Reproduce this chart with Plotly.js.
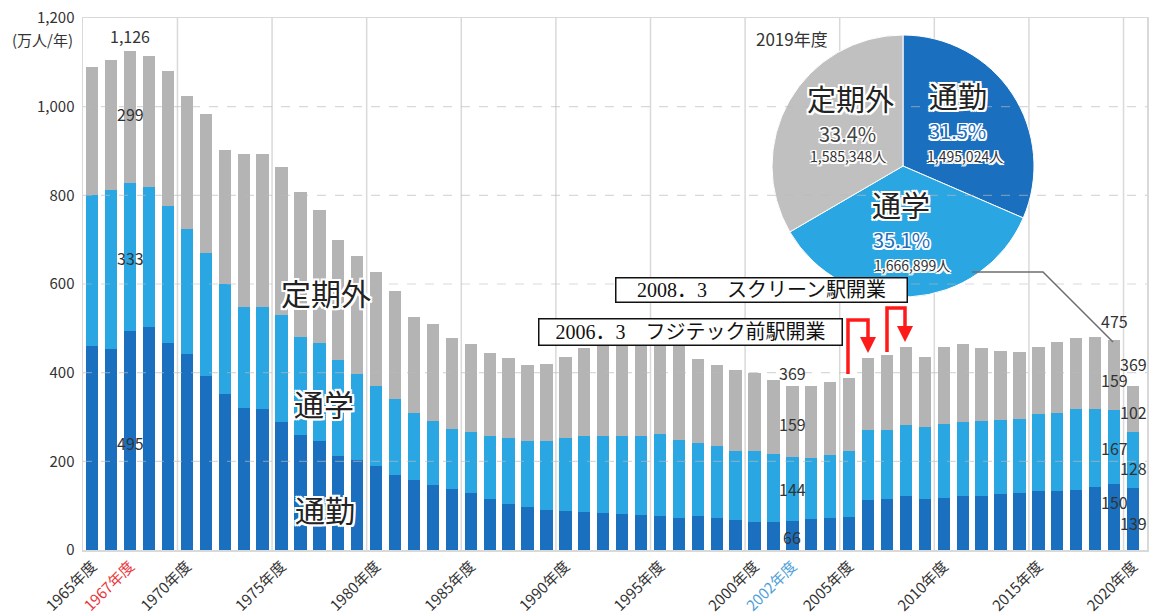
<!DOCTYPE html>
<html><head><meta charset="utf-8">
<script src="https://cdn.plot.ly/plotly-3.0.1.min.js"></script>
<style>html,body{margin:0;padding:0;background:#fff}#chart{width:1151px;height:615px}</style>
</head><body><div id="chart"></div>
<script>
// ---------- DATA (万人/年) ----------
const years = [1965,1966,1967,1968,1969,1970,1971,1972,1973,1974,1975,1976,1977,1978,1979,
  1980,1981,1982,1983,1984,1985,1986,1987,1988,1989,1990,1991,1992,1993,1994,1995,1996,1997,1998,1999,
  2000,2001,2002,2003,2004,2005,2006,2007,2008,2009,2010,2011,2012,2013,2014,2015,2016,2017,2018,2019,2020];
const commute = [460,454,494.6,504,468,441,392,352,320,317,289,259,245,213,202,
  190,170,157,147,137,128,115,104,96,91,87,85,83,81,79,77,73,77,73,68,
  64,64,66,69,73,75,113,115,122,115,118,122,122,126,128,134,134,136,143,149.5,139];
const school = [340,359,332.7,315,308,282,277,248,229,232,241,222,221,216,194,
  180,171,152,144,135,138,143,149,149,156,166,173,174,176,178,185,176,165,162,156,
  160,153,144,139,141,148,157,155,160,163,167,167,170,168,168,173,175,181,175,166.7,128];
const other = [290,293,298.7,296,305,302,314,302,345,344,333,327,300,271,267,
  256,244,216,218,207,198,187,179,172,173,183,197,205,211,213,208,216,188,182,182,
  176,166,159,162,165,166,164,169,175,157,173,175,163,155,151,150,160,161,163,158.5,102];
const seriesNames = ['通勤','通学','定期外'];
const tickYears = [1965,1967,1970,1975,1980,1985,1990,1995,2000,2002,2005,2010,2015,2020];
const highlightYears = {1967:'#e8383d', 2002:'#4f9fd8'};
const pieYearLabel = '2019年度';
const pieLabels = ['通勤','通学','定期外'];
const pieValues = [1495024,1666899,1585348];
const events = ['2006．3　フジテック前駅開業','2008．3　スクリーン駅開業'];
const yUnit = '(万人/年)';

// ---------- STYLE ----------
const C_COM = '#1b6fbf', C_SCH = '#2aa6e2', C_OTH = '#b4b4b4', C_PIE_OTH = '#c0c0c0';
const FONT = 'Noto Sans CJK JP, sans-serif';
const L = 83, R = 1147, T = 18, B = 550;
const P = (px, py) => [(px - L) / (R - L), (B - py) / (B - T)];
const halo = (w) => `-${w}px -${w}px 0 #fff, ${w}px -${w}px 0 #fff, -${w}px ${w}px 0 #fff, ${w}px ${w}px 0 #fff, 0 ${w}px 0 #fff, 0 -${w}px 0 #fff, ${w}px 0 0 #fff, -${w}px 0 0 #fff`;

const barW = 0.65;
const traces = [
  {type:'bar', x:years, y:commute, name:seriesNames[0], marker:{color:C_COM}, width:barW, hoverinfo:'none'},
  {type:'bar', x:years, y:school, name:seriesNames[1], marker:{color:C_SCH}, width:barW, hoverinfo:'none'},
  {type:'bar', x:years, y:other, name:seriesNames[2], marker:{color:C_OTH}, width:barW, hoverinfo:'none'},
];
const pieTotal = pieValues.reduce((a,b)=>a+b,0);
const pr = 131;
const pd0 = P(903-pr, 166+pr), pd1 = P(903+pr, 166-pr);
traces.push({type:'pie', labels:pieLabels, values:pieValues, sort:false, direction:'clockwise', rotation:0,
  marker:{colors:[C_COM, C_SCH, C_PIE_OTH], line:{color:'#ffffff', width:1}},
  textinfo:'none', hoverinfo:'none', showlegend:false,
  domain:{x:[pd0[0], pd1[0]], y:[pd0[1], pd1[1]]}});

// ---------- ANNOTATIONS ----------
const ann = [];
const idx = y => years.indexOf(y);
const fmt = v => Math.round(v).toLocaleString('en-US');
function barLabel(year, seg, dy, size){
  const i = idx(year);
  const c = commute[i], s = school[i], o = other[i];
  let v, yy;
  if (seg === 'total'){ v = c+s+o; yy = v + dy; }
  else if (seg === 'c'){ v = c; yy = c/2 + dy; }
  else if (seg === 's'){ v = s; yy = c + s/2 + dy; }
  else { v = o; yy = c + s + o/2 + dy; }
  ann.push({xref:'x', yref:'y', x:year, y:yy, text:fmt(v), showarrow:false,
    font:{family:FONT, size:size||16, color:'#333'}});
}
barLabel(1967,'total',33); barLabel(1967,'o',6); barLabel(1967,'s',-2); barLabel(1967,'c',-7);
barLabel(2002,'total',30); barLabel(2002,'o',-5); barLabel(2002,'s',0); barLabel(2002,'c',-4);
barLabel(2019,'total',41); barLabel(2019,'o',-11); barLabel(2019,'s',-2); barLabel(2019,'c',34);
barLabel(2020,'total',50); barLabel(2020,'o',-6); barLabel(2020,'s',-17); barLabel(2020,'c',-9);

function paperText(px, py, text, size, color, shadow, extra){
  const p = P(px, py);
  ann.push(Object.assign({xref:'paper', yref:'paper', x:p[0], y:p[1], text:text, showarrow:false,
    xanchor:'center', yanchor:'middle',
    font:{family:FONT, size:size, color:color||'#222', shadow:shadow||'none'}}, extra||{}));
}
// big series labels
paperText(326, 292, seriesNames[2], 30, '#222', halo(2));
paperText(324, 403, seriesNames[1], 30, '#222', halo(2));
paperText(325, 509, seriesNames[0], 30, '#222', halo(2));
// unit
paperText(42, 39, yUnit, 15, '#333');
// pie texts
paperText(792, 38, pieYearLabel, 17, '#333');
const pct = v => (v / pieTotal * 100).toFixed(1) + '%';
const ppl = v => v.toLocaleString('en-US') + '人';
paperText(958, 95, pieLabels[0], 29, '#222', halo(2));
paperText(957, 131, pct(pieValues[0]), 20, '#1e6fc0', halo(1.5));
paperText(965, 156, ppl(pieValues[0]), 14, '#333', halo(1.5));
paperText(901, 204, pieLabels[1], 29, '#222', halo(2));
paperText(901, 240, pct(pieValues[1]), 20, '#1e6fc0', halo(1.5));
paperText(912, 265, ppl(pieValues[1]), 14, '#333', halo(1.5));
paperText(850, 98, pieLabels[2], 29, '#222', halo(2));
paperText(847, 133, pct(pieValues[2]), 20, '#444', halo(1.5));
paperText(848, 156, ppl(pieValues[2]), 14, '#333', halo(1.5));
// event boxes
const boxFont = {family:'Liberation Serif, Noto Sans CJK JP, serif', size:20, color:'#111'};
paperText(690, 332, events[0], 20, '#111', 'none', {font:boxFont, bgcolor:'#ffffff', bordercolor:'#111', borderwidth:1.5, borderpad:0, width:302, height:25});
paperText(761, 290, events[1], 20, '#111', 'none', {font:boxFont, bgcolor:'#ffffff', bordercolor:'#111', borderwidth:1.5, borderpad:0, width:290, height:23});

// ---------- SHAPES ----------
const shapes = [];
for (let g = 1969.5; g < 2020; g += 5){
  shapes.push({type:'line', xref:'x', yref:'paper', x0:g, x1:g, y0:0, y1:1, line:{color:'#d9d9d9', width:1.5}, layer:'below'});
}
for (let v = 200; v <= 1000; v += 200){
  shapes.push({type:'line', xref:'paper', yref:'y', x0:0, x1:1, y0:v, y1:v, line:{color:'rgba(185,185,185,0.55)', width:1.2, dash:'dash'}, layer:'above'});
}
function path(pts, closed){
  return pts.map((q,k)=>{const p=P(q[0],q[1]); return (k?'L':'M')+p[0].toFixed(5)+','+p[1].toFixed(5);}).join(' ') + (closed?' Z':'');
}
// connector from pie to 2019 bar
shapes.push({type:'path', xref:'paper', yref:'paper', path:path([[972,272],[1043,272],[1113,342]]), line:{color:'#6e6e6e', width:1.5}, layer:'above'});
// red arrows
const red = '#ff1a1a';
shapes.push({type:'path', xref:'paper', yref:'paper', path:path([[848,374],[848,320],[868,320],[868,340]]), line:{color:red, width:3.5}, layer:'above'});
shapes.push({type:'path', xref:'paper', yref:'paper', path:path([[860,337],[876,337],[868,353]], true), fillcolor:red, line:{color:red, width:0}, layer:'above'});
shapes.push({type:'path', xref:'paper', yref:'paper', path:path([[887,352],[887,308],[905,308],[905,329]]), line:{color:red, width:3.5}, layer:'above'});
shapes.push({type:'path', xref:'paper', yref:'paper', path:path([[897,326],[913,326],[905,342]], true), fillcolor:red, line:{color:red, width:0}, layer:'above'});

// ---------- LAYOUT ----------
const tickText = tickYears.map(y => highlightYears[y] ? `<span style="color:${highlightYears[y]}">${y}年度</span>` : `${y}年度`);
const layout = {
  width:1151, height:615, margin:{l:L, r:1151-R, t:T, b:615-B, pad:0},
  paper_bgcolor:'#ffffff', plot_bgcolor:'#ffffff', barmode:'stack', showlegend:false,
  font:{family:FONT, color:'#333'},
  xaxis:{range:[1964.508, 2020.74], tickvals:tickYears, ticktext:tickText, tickangle:-45,
    tickfont:{family:FONT, size:15, color:'#333'}, showgrid:false, zeroline:false,
    showline:true, mirror:true, linecolor:'#d9d9d9', linewidth:1.5, ticks:'', fixedrange:true},
  yaxis:{range:[0,1200], dtick:200, tickformat:',d', tickfont:{family:FONT, size:15, color:'#333'},
    showgrid:false, zeroline:false, showline:true, mirror:true, linecolor:'#d9d9d9', linewidth:1.5,
    ticks:'', ticklabelstandoff:4, fixedrange:true},
  annotations:ann, shapes:shapes
};
Plotly.newPlot('chart', traces, layout, {displayModeBar:false, staticPlot:true});
</script></body></html>
